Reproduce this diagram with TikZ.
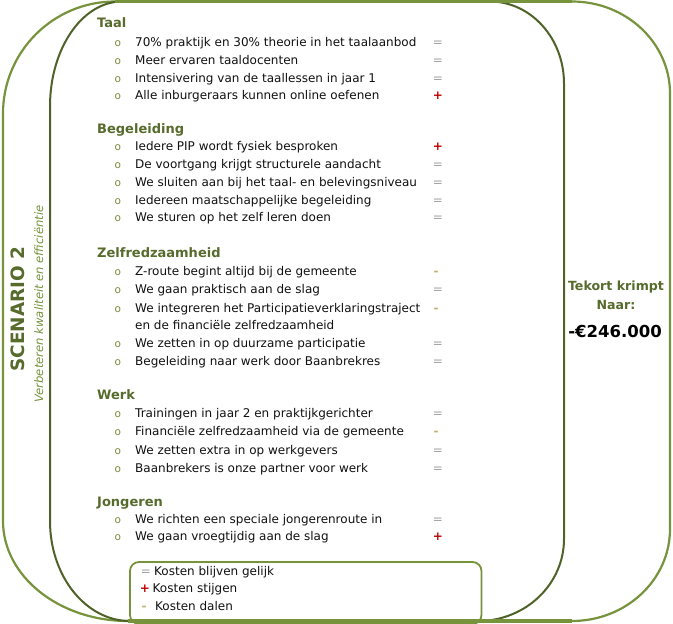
\documentclass[tikz,border=0pt]{standalone}
\usepackage{fontspec}
\setmainfont{DejaVu Sans}
\definecolor{olivec}{HTML}{77933C}
\definecolor{dkolive}{HTML}{4F6228}
\definecolor{headc}{HTML}{566B2C}
\definecolor{eqc}{HTML}{A0A0A0}
\definecolor{plusc}{HTML}{C00000}
\definecolor{minc}{HTML}{BDB070}
\definecolor{bulc}{HTML}{7A8A3A}
\definecolor{txtc}{HTML}{111111}
\newcommand{\fsz}[1]{\fontsize{#1}{#1}\selectfont}
\newcommand{\bul}{\makebox[21pt][l]{\hspace*{0.5pt}\textcolor{bulc}{\fsz{10.5}o}}}
\begin{document}
\begin{tikzpicture}[x=1pt,y=-1pt,
  head/.style={anchor=mid west, inner sep=0pt, font=\fsz{13}\bfseries, text=headc},
  item/.style={anchor=mid west, inner sep=0pt, font=\fsz{12}, text=txtc},
  symeq/.style={anchor=mid, inner sep=0pt, font=\fsz{12}, text=eqc},
  symplus/.style={anchor=mid, inner sep=0pt, font=\fsz{12}\bfseries, text=plusc},
  symmin/.style={anchor=mid, inner sep=0pt, font=\fsz{12}\bfseries, text=minc},
  outerline/.style={draw=olivec, line width=2.2pt},
  innerline/.style={draw=dkolive, line width=2pt},
  legbox/.style={draw=olivec, line width=1.8pt, fill=white, rounded corners=9pt},
  side/.style={anchor=mid, inner sep=0pt, text=headc}
]
\useasboundingbox (0,0) rectangle (673,624);
\fill[white] (0,0) rectangle (673,624);

% outer shape
\path[outerline] (3,113.5) .. controls (3,51.7) and (53.2,1.5) .. (115,1.5)
  -- (572,1.5) .. controls (626.1,1.5) and (670,42.7) .. (670,93.5)
  -- (670,529) .. controls (670,579.8) and (626.1,621) .. (572,621)
  -- (128,621) .. controls (59,621) and (3,576.2) .. (3,521) -- cycle;
% inner shape
\path[innerline] (50,106.5) .. controls (50,48.5) and (82.3,1.5) .. (122,1.5)
  -- (490,1.5) .. controls (530.8,1.5) and (564,38.2) .. (564,83.5)
  -- (564,539) .. controls (564,584.3) and (525.5,621) .. (478,621)
  -- (130,621) .. controls (85.8,621) and (50,576.2) .. (50,521) -- cycle;

% legend box
\path[legbox] (130,562) rectangle (481.5,624);
\draw[olivec, line width=3pt] (115,1.5) -- (572,1.5);
\draw[olivec, line width=4pt] (128,621) -- (572,621);

% side texts
\node[side, rotate=90, font=\fsz{18.4}\bfseries] (scen) at (21.5,309) {SCENARIO 2};
\node[side, rotate=90, font=\fsz{11.6}\itshape, text=olivec] (sub) at (40.5,304) {Verbeteren kwaliteit en efficiëntie};
\node[side, font=\fsz{12.6}\bfseries] (tek) at (616,288) {Tekort krimpt};
\node[side, font=\fsz{12.6}\bfseries] (naar) at (616,307) {Naar:};
\node[side, font=\fsz{16.5}\bfseries, text=black] (amt) at (615,335) {-€246.000};

% Taal
\node[head] (hTaal) at (97,25) {Taal};
\node[item] (t1) at (114,44) {\bul 70\% praktijk en 30\% theorie in het taalaanbod};
\node[item] (t2) at (114,62) {\bul Meer ervaren taaldocenten};
\node[item] (t3) at (114,80) {\bul Intensivering van de taallessen in jaar 1};
\node[item] (t4) at (114,97) {\bul Alle inburgeraars kunnen online oefenen};
\node[symeq] (st1) at (438,44) {=};
\node[symeq] (st2) at (438,62) {=};
\node[symeq] (st3) at (438,80) {=};
\node[symplus] (st4) at (438,97) {+};

% Begeleiding
\node[head] (hBeg) at (97,131) {Begeleiding};
\node[item] (b1) at (114,148) {\bul Iedere PIP wordt fysiek besproken};
\node[item] (b2) at (114,166) {\bul De voortgang krijgt structurele aandacht};
\node[item] (b3) at (114,184) {\bul We sluiten aan bij het taal- en belevingsniveau};
\node[item] (b4) at (114,202) {\bul Iedereen maatschappelijke begeleiding};
\node[item] (b5) at (114,219) {\bul We sturen op het zelf leren doen};
\node[symplus] (sb1) at (438,148) {+};
\node[symeq] (sb2) at (438,166) {=};
\node[symeq] (sb3) at (438,184) {=};
\node[symeq] (sb4) at (438,202) {=};
\node[symeq] (sb5) at (438,219) {=};

% Zelfredzaamheid
\node[head] (hZelf) at (97,255) {Zelfredzaamheid};
\node[item] (z1) at (114,273) {\bul Z-route begint altijd bij de gemeente};
\node[item] (z2) at (114,291) {\bul We gaan praktisch aan de slag};
\node[item] (z3) at (114,310) {\bul We integreren het Participatieverklaringstraject};
\node[item] (z3b) at (135,327) {en de financiële zelfredzaamheid};
\node[item] (z4) at (114,345) {\bul We zetten in op duurzame participatie};
\node[item] (z5) at (114,363) {\bul Begeleiding naar werk door Baanbrekres};
\node[symmin] (sz1) at (436,273) {-};
\node[symeq] (sz2) at (438,291) {=};
\node[symmin] (sz3) at (436,310) {-};
\node[symeq] (sz4) at (438,345) {=};
\node[symeq] (sz5) at (438,363) {=};

% Werk
\node[head] (hWerk) at (97,397) {Werk};
\node[item] (w1) at (114,415) {\bul Trainingen in jaar 2 en praktijkgerichter};
\node[item] (w2) at (114,433) {\bul Financiële zelfredzaamheid via de gemeente};
\node[item] (w3) at (114,452) {\bul We zetten extra in op werkgevers};
\node[item] (w4) at (114,470) {\bul Baanbrekers is onze partner voor werk};
\node[symeq] (sw1) at (438,415) {=};
\node[symmin] (sw2) at (436,433) {-};
\node[symeq] (sw3) at (438,452) {=};
\node[symeq] (sw4) at (438,470) {=};

% Jongeren
\node[head] (hJong) at (97,504) {Jongeren};
\node[item] (j1) at (114,521) {\bul We richten een speciale jongerenroute in};
\node[item] (j2) at (114,538) {\bul We gaan vroegtijdig aan de slag};
\node[symeq] (sj1) at (438,521) {=};
\node[symplus] (sj2) at (438,538) {+};

% legend
\node[symeq] (l1s) at (146,573) {=};
\node[item] (l1) at (154,573) {Kosten blijven gelijk};
\node[symplus] (l2s) at (145,590) {+};
\node[item] (l2) at (152.5,590) {Kosten stijgen};
\node[symmin] (l3s) at (144,608) {-};
\node[item] (l3) at (155,608) {Kosten dalen};
\end{tikzpicture}
\end{document}
